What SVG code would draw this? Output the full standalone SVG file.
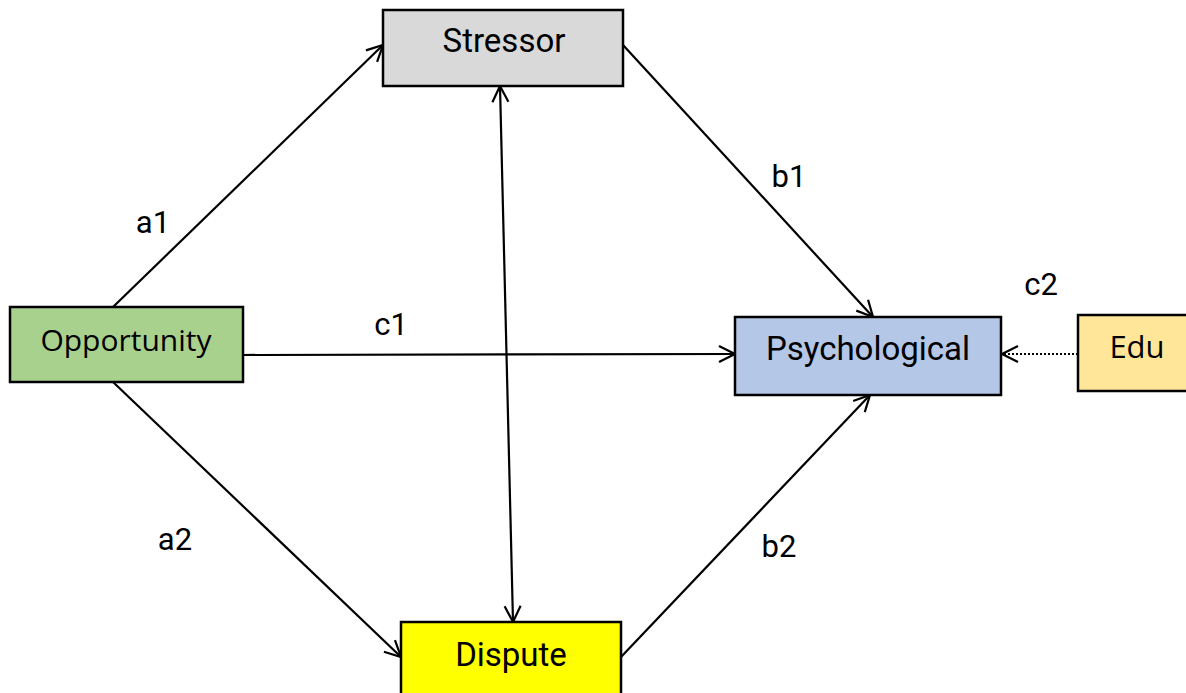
<svg xmlns="http://www.w3.org/2000/svg" width="1186" height="693" viewBox="0 0 1186 693">
<defs>
<marker id="ah" viewBox="0 0 20 20" refX="19" refY="10" markerWidth="20" markerHeight="20" markerUnits="userSpaceOnUse" orient="auto-start-reverse">
<path d="M3,2 L19,10 L3,18" fill="none" stroke="#000" stroke-width="2.2"/>
</marker>
</defs>
<style>
.box{stroke:#000;stroke-width:2.5}
.t{font-family:Roboto,"Liberation Sans",sans-serif;font-size:33px;fill:#000;text-anchor:middle}
.o{font-family:"Open Sans","DejaVu Sans",sans-serif;font-size:30px}
.lab{font-family:Roboto,"Liberation Sans",sans-serif;font-size:31px;fill:#000;text-anchor:middle}
.c{stroke:#000;stroke-width:2.2;fill:none}
</style>
<rect width="1186" height="693" fill="#fff"/>
<g id="connectors">
<line class="c" x1="113" y1="307" x2="383" y2="45" marker-end="url(#ah)"/>
<line class="c" x1="113" y1="382" x2="401" y2="657" marker-end="url(#ah)"/>
<line class="c" x1="243" y1="355" x2="735" y2="354" marker-end="url(#ah)"/>
<line class="c" x1="623" y1="45" x2="873" y2="317" marker-end="url(#ah)"/>
<line class="c" x1="621" y1="657" x2="870" y2="395" marker-end="url(#ah)"/>
<line class="c" x1="500" y1="86" x2="513" y2="622" marker-start="url(#ah)" marker-end="url(#ah)"/>
<line class="c" x1="1078" y1="354" x2="1002" y2="354" stroke-dasharray="2,2" marker-end="url(#ah)"/>
<text class="lab" x="153" y="233">a1</text>
<text class="lab" x="175" y="550">a2</text>
<text class="lab" x="391" y="335">c1</text>
<text class="lab" x="789" y="187">b1</text>
<text class="lab" x="779" y="557">b2</text>
<text class="lab" x="1041" y="295">c2</text>
</g>
<g id="stressor">
<rect class="box" x="383" y="10" width="240" height="76" fill="#d9d9d9"/>
<text class="t" x="504" y="52">Stressor</text>
</g>
<g id="opportunity">
<rect class="box" x="10" y="307" width="233" height="75" fill="#a9d18e"/>
<text class="t o" x="126" y="351">Opportunity</text>
</g>
<g id="psychological">
<rect class="box" x="735" y="317" width="266" height="78" fill="#b4c7e7"/>
<text class="t" x="868" y="360">Psychological</text>
</g>
<g id="edu">
<rect class="box" x="1078" y="315" width="120" height="76" fill="#ffe699"/>
<text class="t o" x="1137" y="358" style="font-size:31px">Edu</text>
</g>
<g id="dispute">
<rect class="box" x="401" y="622" width="220" height="80" fill="#ffff00"/>
<text class="t" x="511" y="666">Dispute</text>
</g>
</svg>
